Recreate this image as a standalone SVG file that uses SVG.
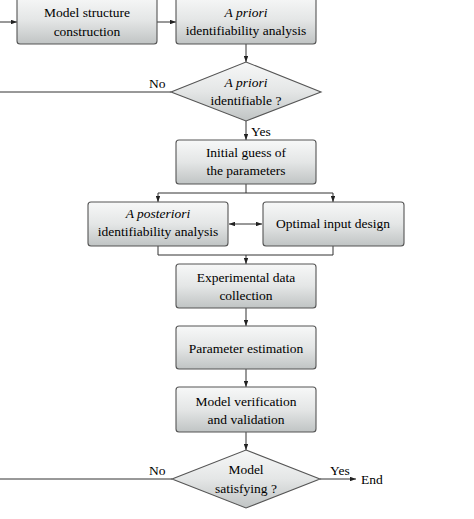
<svg xmlns="http://www.w3.org/2000/svg" width="474" height="519" viewBox="0 0 474 519">
<defs>
<linearGradient id="g" x1="0" y1="0" x2="0" y2="1">
<stop offset="0" stop-color="#f7f8f8"/>
<stop offset="0.5" stop-color="#e4e6e6"/>
<stop offset="1" stop-color="#c0c4c4"/>
</linearGradient>
<marker id="a" viewBox="0 0 8 6" refX="8" refY="3" markerWidth="6" markerHeight="4.5" orient="auto" markerUnits="userSpaceOnUse">
<path d="M0,0 L8,3 L0,6 z" fill="#222"/>
</marker>
<marker id="as" viewBox="0 0 8 6" refX="0" refY="3" markerWidth="6" markerHeight="4.5" orient="auto" markerUnits="userSpaceOnUse">
<path d="M8,0 L0,3 L8,6 z" fill="#222"/>
</marker>
</defs>
<style>
.box{fill:url(#g);stroke:#555;stroke-width:1.1}
.t{font-family:"Liberation Serif","Times New Roman",serif;font-size:13.5px;fill:#000;text-anchor:middle}
.l{font-family:"Liberation Serif","Times New Roman",serif;font-size:13.5px;fill:#000}
.i{font-style:italic}
.c{fill:none;stroke:#333;stroke-width:1}
</style>
<rect width="474" height="519" fill="#fff"/>
<g id="connectors">
<path class="c" d="M0,22 H17" marker-end="url(#a)"/>
<path class="c" d="M157,22 H176" marker-end="url(#a)"/>
<path class="c" d="M246,44 V62" marker-end="url(#a)"/>
<path class="c" d="M0,92 H171"/>
<path class="c" d="M246,121 V140" marker-end="url(#a)"/>
<path class="c" d="M246,184 V193 M158,193 H333"/>
<path class="c" d="M158,193 V202" marker-end="url(#a)"/>
<path class="c" d="M333,193 V202" marker-end="url(#a)"/>
<path class="c" d="M229,224 H262" marker-start="url(#as)" marker-end="url(#a)"/>
<path class="c" d="M158,246 V255 H333 V246"/>
<path class="c" d="M246,255 V264" marker-end="url(#a)"/>
<path class="c" d="M246,308 V326" marker-end="url(#a)"/>
<path class="c" d="M246,369 V387" marker-end="url(#a)"/>
<path class="c" d="M246,432 V450" marker-end="url(#a)"/>
<path class="c" d="M0,479 H172"/>
<path class="c" d="M320,479 H356" marker-end="url(#a)"/>
<text class="l" x="149" y="88">No</text>
<text class="l" x="251" y="136">Yes</text>
<text class="l" x="149" y="475">No</text>
<text class="l" x="330" y="475">Yes</text>
<text class="l" x="361" y="484">End</text>
</g>
<g id="model-structure">
<rect class="box" x="17" y="-4" width="140" height="48" rx="3"/>
<text class="t" x="87" y="17">Model structure</text>
<text class="t" x="87" y="36">construction</text>
</g>
<g id="a-priori-analysis">
<rect class="box" x="176" y="-4" width="140" height="48" rx="3"/>
<text class="t i" x="246" y="17">A priori</text>
<text class="t" x="246" y="35">identifiability analysis</text>
</g>
<g id="a-priori-identifiable">
<polygon class="box" points="246,62 321,92 246,121 171,92"/>
<text class="t i" x="246" y="87">A priori</text>
<text class="t" x="246" y="105">identifiable ?</text>
</g>
<g id="initial-guess">
<rect class="box" x="176" y="140" width="140" height="44" rx="3"/>
<text class="t" x="246" y="157">Initial guess of</text>
<text class="t" x="246" y="175">the parameters</text>
</g>
<g id="a-posteriori">
<rect class="box" x="88" y="202" width="140" height="44" rx="3"/>
<text class="t i" x="158" y="218">A posteriori</text>
<text class="t" x="158" y="236">identifiability analysis</text>
</g>
<g id="optimal-input">
<rect class="box" x="263" y="202" width="141" height="44" rx="3"/>
<text class="t" x="333" y="228">Optimal input design</text>
</g>
<g id="experimental-data">
<rect class="box" x="176" y="264" width="140" height="44" rx="3"/>
<text class="t" x="246" y="282">Experimental data</text>
<text class="t" x="246" y="300">collection</text>
</g>
<g id="parameter-estimation">
<rect class="box" x="176" y="326" width="140" height="43" rx="3"/>
<text class="t" x="246" y="353">Parameter estimation</text>
</g>
<g id="model-verification">
<rect class="box" x="176" y="387" width="140" height="45" rx="3"/>
<text class="t" x="246" y="406">Model verification</text>
<text class="t" x="246" y="424">and validation</text>
</g>
<g id="model-satisfying">
<polygon class="box" points="246,450 320,479 246,508 172,479"/>
<text class="t" x="246" y="474">Model</text>
<text class="t" x="246" y="493">satisfying ?</text>
</g>
</svg>
